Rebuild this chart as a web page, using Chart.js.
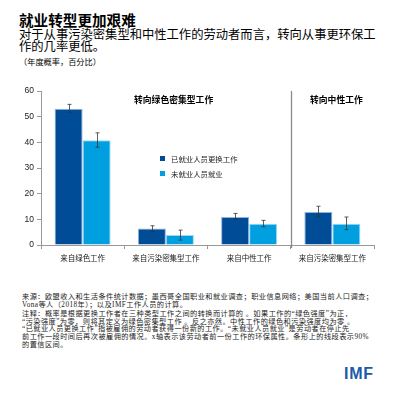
<!DOCTYPE html>
<html>
<head>
<meta charset="utf-8">
<script src="https://cdn.jsdelivr.net/npm/chart.js@4/dist/chart.umd.min.js"></script>
<style>
  html, body { margin:0; padding:0; background:#fff; }
  body { width:395px; height:395px; position:relative; overflow:hidden; font-family:"Noto Sans CJK SC", "Noto Sans", sans-serif; color:#111; }
  .abs { position:absolute; white-space:nowrap; }
  #title { left:19px; top:11px; font-size:14.6px; font-weight:bold; line-height:18px; color:#000; }
  #sub { left:19px; top:29px; font-size:12.3px; line-height:11.5px; color:#000; }
  #unit { left:19px; top:56px; font-size:8.2px; line-height:10px; color:#000; }
  #chartwrap { left:0; top:80px; width:395px; height:195px; }
  .panel { font-size:8.8px; font-weight:bold; color:#000; line-height:10px; }
  .leg { font-size:7.4px; color:#222; line-height:9px; }
  .sw { position:absolute; width:5px; height:5px; }
  #foot { left:22px; top:294px; font-family:"Liberation Serif", "Noto Sans CJK SC", serif; font-size:7.2px; line-height:7.7px; color:#222; letter-spacing:0.45px; }
  #foot div { white-space:nowrap; }
  #imf { left:344px; top:365px; font-family:"Liberation Sans", Arial, sans-serif; font-weight:bold; font-size:16px; color:#1b5ba8; letter-spacing:0.8px; line-height:18px; }
</style>
</head>
<body>
<div id="title" class="abs">就业转型更加艰难</div>
<div id="sub" class="abs">对于从事污染密集型和中性工作的劳动者而言，转向从事更环保工<br>作的几率更低。</div>
<div id="unit" class="abs">（年度概率，百分比）</div>

<div id="chartwrap" class="abs"><canvas id="c" width="395" height="195"></canvas></div>

<div class="abs panel" style="left:134px; top:95px;">转向绿色密集型工作</div>
<div class="abs panel" style="left:310px; top:95px;">转向中性工作</div>

<div class="sw" style="left:160px; top:156px; background:#004C97;"></div>
<div class="abs leg" style="left:171px; top:154px;">已就业人员更换工作</div>
<div class="sw" style="left:160px; top:171px; background:#009FDF;"></div>
<div class="abs leg" style="left:171px; top:169px;">未就业人员就业</div>

<div id="foot" class="abs">
<div>来源：欧盟收入和生活条件统计数据；墨西哥全国职业和就业调查；职业信息网络；美国当前人口调查；</div>
<div>Vona等人（2018年）；以及IMF工作人员的计算。</div>
<div style="margin-top:1.5px;">注释：概率是根据更换工作者在三种类型工作之间的转换而计算的 。如果工作的“绿色强度”为正，</div>
<div>“污染强度”为零，则将其定义为绿色密集型工作 。反之亦然。中性工作的绿色和污染强度均为零 。</div>
<div>“已就业人员更换工作”指被雇佣的劳动者获得一份新的工作。“未就业人员就业”是劳动者在停止先</div>
<div>前工作一段时间后再次被雇佣的情况。x轴表示该劳动者前一份工作的环保属性。条形上的线段表示90%</div>
<div>的置信区间。</div>
</div>

<div id="imf" class="abs">IMF</div>

<script>
const categories = ['来自绿色工作', '来自污染密集型工作', '来自中性工作', '来自污染密集型工作'];
const seriesNames = ['已就业人员更换工作', '未就业人员就业'];
const employed = [53.1, 6.4, 10.9, 12.9];
const employedLow = [51.7, 5.2, 10.0, 11.2];
const employedHigh = [54.8, 7.5, 12.3, 15.1];
const unemployed = [40.8, 3.9, 8.3, 8.3];
const unemployedLow = [38.1, 1.9, 7.1, 6.0];
const unemployedHigh = [43.7, 5.8, 9.6, 10.9];
const yMin = 0, yMax = 60, yLabelStep = 10, yMinorStep = 5;

const errorLows = [employedLow, unemployedLow];
const errorHighs = [employedHigh, unemployedHigh];

const errorBarPlugin = {
  id: 'errorBars',
  afterDatasetsDraw(chart) {
    const ctx = chart.ctx;
    const y = chart.scales.y;
    ctx.save();
    ctx.strokeStyle = '#333';
    ctx.lineWidth = 0.8;
    chart.data.datasets.forEach((ds, di) => {
      const meta = chart.getDatasetMeta(di);
      meta.data.forEach((bar, i) => {
        const x = Math.round(bar.x) + 0.5;
        const yl = y.getPixelForValue(errorLows[di][i]);
        const yh = y.getPixelForValue(errorHighs[di][i]);
        ctx.beginPath();
        ctx.moveTo(x, yl); ctx.lineTo(x, yh);
        ctx.moveTo(x - 2, yl); ctx.lineTo(x + 2, yl);
        ctx.moveTo(x - 2, yh); ctx.lineTo(x + 2, yh);
        ctx.stroke();
      });
    });
    ctx.restore();
  }
};

const dividerPlugin = {
  id: 'divider',
  afterDatasetsDraw(chart) {
    const ctx = chart.ctx;
    const xs = chart.scales.x;
    const area = chart.chartArea;
    const xp = Math.round((xs.getPixelForValue(2) + xs.getPixelForValue(3)) / 2) + 0.5;
    ctx.save();
    ctx.strokeStyle = '#8a8a8a';
    ctx.lineWidth = 1.3;
    ctx.beginPath();
    ctx.moveTo(xp, area.top);
    ctx.lineTo(xp, area.bottom + 3);
    ctx.stroke();
    ctx.restore();
  }
};

new Chart(document.getElementById('c'), {
  type: 'bar',
  data: {
    labels: categories,
    datasets: [
      { label: seriesNames[0], data: employed, backgroundColor: '#004C97', borderColor: '#8db4de', borderWidth: 1, borderSkipped: 'start' },
      { label: seriesNames[1], data: unemployed, backgroundColor: '#009FDF', borderColor: '#9fd6f2', borderWidth: 1, borderSkipped: 'start' }
    ]
  },
  options: {
    responsive: false,
    animation: false,
    devicePixelRatio: 1,
    layout: { padding: { top: 11, right: 21, left: 0, bottom: 0 } },
    plugins: { legend: { display: false }, tooltip: { enabled: false } },
    datasets: { bar: { categoryPercentage: 0.673, barPercentage: 1.0 } },
    scales: {
      x: {
        grid: { display: true, drawOnChartArea: false, drawTicks: true, tickLength: 4, color: '#999', offset: true },
        border: { display: true, color: '#999', width: 1 },
        ticks: { font: { size: 7.5, family: '"Noto Sans CJK SC"' }, color: '#222', padding: 5, maxRotation: 0, autoSkip: false },
        afterFit(scale) { scale.height = 30; }
      },
      y: {
        min: yMin, max: yMax,
        grid: { display: true, drawOnChartArea: false, drawTicks: true, tickLength: 4, color: '#999' },
        border: { display: true, color: '#999', width: 1 },
        ticks: {
          stepSize: yMinorStep,
          font: { size: 8.5, family: '"Liberation Sans", Arial, sans-serif' },
          color: '#222',
          padding: 3,
          callback: (v) => (v % yLabelStep === 0 ? v : '')
        },
        afterFit(scale) { scale.width = 41; }
      }
    }
  },
  plugins: [errorBarPlugin, dividerPlugin]
});
</script>
</body>
</html>
